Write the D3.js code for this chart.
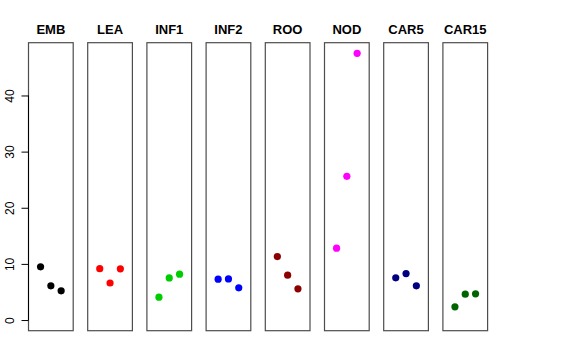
<!DOCTYPE html>
<html><head><meta charset="utf-8">
<script src="https://cdn.jsdelivr.net/npm/d3@7"></script>
<style>body{margin:0;background:#fff}svg{display:block}</style>
</head><body>
<script>
const categories = ["EMB","LEA","INF1","INF2","ROO","NOD","CAR5","CAR15"];
const seriesValues = [
  [9.47, 6.09, 5.2],
  [9.15, 6.6, 9.13],
  [4.08, 7.5, 8.17],
  [7.28, 7.33, 5.74],
  [11.3, 7.99, 5.56],
  [12.8, 25.6, 47.5],
  [7.51, 8.28, 6.09],
  [2.36, 4.61, 4.67]
];
const colors = ["#000000","#FF0000","#00CD00","#0000FF","#8B0000","#FF00FF","#000080","#006400"];
const yTicks = [0,10,20,30,40];
const yTickLabels = ["0","10","20","30","40"];

const W=576,H=360;
const svg=d3.select("body").append("svg").attr("width",W).attr("height",H);
const y=d3.scaleLinear().domain([-1.9,49.4]).range([330.7,42.7]);
const step=59.2, gap=14.5;
const panel=d3.scaleBand().domain(categories).range([28.5,28.5+step*8-gap]).paddingInner(gap/step).paddingOuter(0);
const inner=d3.scalePoint().domain([0,1,2]).range([-10.3,10.3]);

categories.forEach((c,i)=>{
  const x0=panel(c), bw=panel.bandwidth(), cx=x0+bw/2;
  const g=svg.append("g");
  g.append("rect").attr("x",x0).attr("y",y(49.4)).attr("width",bw).attr("height",y(-1.9)-y(49.4))
    .attr("fill","none").attr("stroke","#4d4d4d").attr("stroke-width",1.2);
  g.append("text").attr("x",cx).attr("y",34).attr("text-anchor","middle")
    .attr("font-family","Liberation Sans, Arial, sans-serif").attr("font-weight","bold").attr("font-size",13)
    .text(c);
  g.selectAll("circle").data(seriesValues[i]).join("circle")
    .attr("cx",(d,j)=>cx+inner(j)).attr("cy",d=>y(d)).attr("r",3.6).attr("fill",colors[i]);
});

const axis=d3.axisLeft(y).tickValues(yTicks).tickFormat((d,i)=>yTickLabels[i]).tickSize(7).tickPadding(3);
const ag=svg.append("g").attr("transform","translate(28.5,0)").call(axis);
ag.select(".domain").attr("d",`M0,${y(0)}V${y(40)}`).attr("stroke","#000");
ag.selectAll(".tick line").attr("stroke","#000");
ag.selectAll(".tick text").attr("font-family","Liberation Sans, Arial, sans-serif").attr("font-size",12).attr("fill","#000")
  .attr("transform",function(d){return `translate(-15,0) rotate(-90)`;}).attr("x",0).attr("dy","0")
  .attr("text-anchor","middle").attr("y",0);
</script>
</body></html>
